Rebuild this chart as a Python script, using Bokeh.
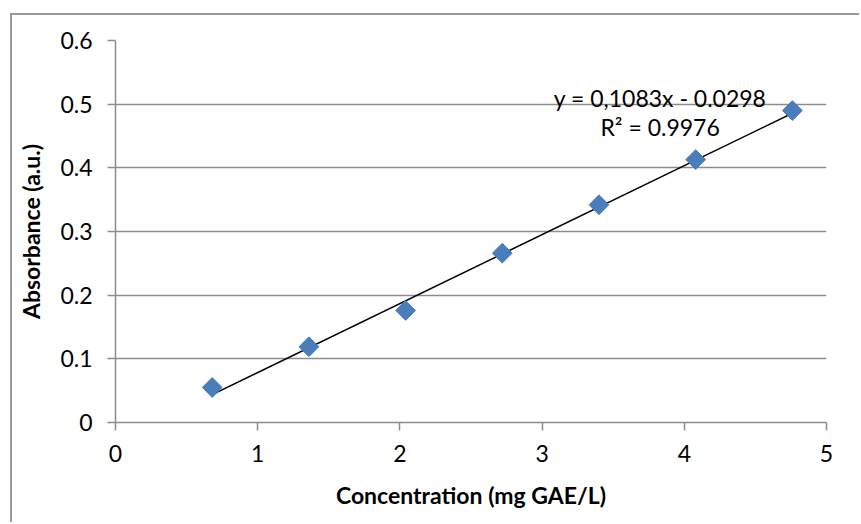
import numpy as np
from bokeh.plotting import figure
from bokeh.layouts import column
from bokeh.models import Label, Range1d, FixedTicker
from bokeh.embed import file_html
from bokeh.resources import INLINE

concentration = [0.68, 1.36, 2.04, 2.72, 3.40, 4.08, 4.76]
absorbance = [0.055, 0.119, 0.176, 0.266, 0.342, 0.413, 0.490]
slope = 0.1083
intercept = -0.0298
equation_text = "y = 0,1083x - 0.0298"
r2_text = "R² = 0.9976"
x_ticks = [0, 1, 2, 3, 4, 5]
y_ticks = [0, 0.1, 0.2, 0.3, 0.4, 0.5, 0.6]

FONT = "Lato"
GRID = "#8c8c8c"
FS = "23px"

p = figure(width=849, height=509, output_backend="svg", toolbar_location=None,
           x_range=Range1d(0, 5), y_range=Range1d(0, 0.6),
           min_border_left=103, min_border_right=35, min_border_top=25, min_border_bottom=102)
p.outline_line_color = None
p.background_fill_color = "white"

p.xgrid.grid_line_color = None
p.ygrid.grid_line_color = GRID
p.ygrid.grid_line_width = 1.5

for ax in (p.xaxis[0], p.yaxis[0]):
    ax.axis_line_color = GRID
    ax.axis_line_width = 1.5
    ax.major_tick_line_color = GRID
    ax.major_tick_line_width = 1.5
    ax.major_tick_out = 8
    ax.major_tick_in = 0
    ax.minor_tick_line_color = None
    ax.major_label_text_font = FONT
    ax.major_label_text_font_size = FS
    ax.major_label_text_color = "black"
    ax.axis_label_text_font = FONT
    ax.axis_label_text_font_size = FS
    ax.axis_label_text_font_style = "bold"
    ax.axis_label_text_color = "black"

p.xaxis.ticker = FixedTicker(ticks=x_ticks)
p.yaxis.ticker = FixedTicker(ticks=y_ticks)
p.yaxis.major_label_overrides = {0: "0"}
p.xaxis.major_label_standoff = 14
p.yaxis.major_label_standoff = 15
p.xaxis.axis_label = "Concentration (mg GAE/L)"
p.yaxis.axis_label = "Absorbance (a.u.)"
p.xaxis.axis_label_standoff = 16
p.yaxis.axis_label_standoff = 12

xs = np.array(concentration)
fit = slope * xs + intercept
p.line([xs.min(), xs.max()], [fit[0], fit[-1]], line_color="black", line_width=1.5)
p.scatter(concentration, absorbance, marker="square", angle=np.pi / 4, size=14,
          fill_color="#4a7ebb", line_color="#4a7ebb")

p.add_layout(Label(x=3.83, y=0.509, text=equation_text, text_align="center", text_baseline="middle",
                   text_font=FONT, text_font_size=FS, text_color="black"))
p.add_layout(Label(x=3.83, y=0.464, text=r2_text, text_align="center", text_baseline="middle",
                   text_font=FONT, text_font_size=FS, text_color="black"))

layout = column(p, margin=(15, 0, 0, 12),
                styles={"box-shadow": "-2px -2px 0px 0px #999999"})

open("out.html", "w").write(file_html(layout, INLINE))
